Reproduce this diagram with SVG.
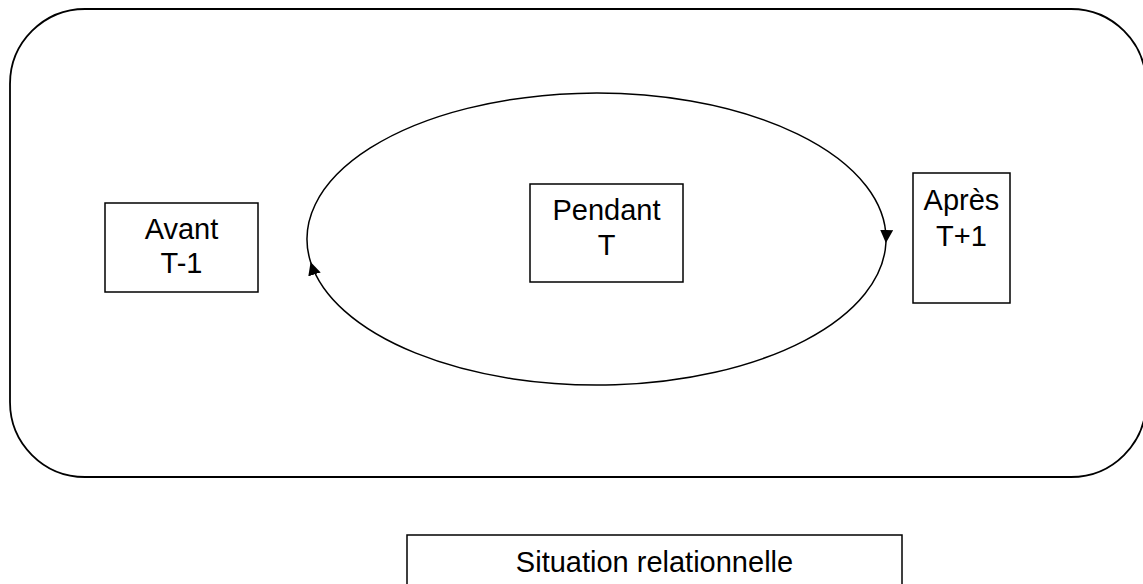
<svg xmlns="http://www.w3.org/2000/svg" width="1143" height="584" viewBox="0 0 1143 584">
<style>
.box{fill:#fff;stroke:#000;stroke-width:1.5}
.lbl{font-family:"Liberation Sans",Arial,sans-serif;font-size:29px;fill:#000;text-anchor:middle}
.arc{fill:none;stroke:#000;stroke-width:1.5}
</style>
<defs>
<marker id="ah" markerUnits="userSpaceOnUse" markerWidth="14" markerHeight="14" refX="13" refY="6.5" orient="auto">
<path d="M0,0 L13,6.5 L0,13 z" fill="#000"/>
</marker>
</defs>
<rect width="1143" height="584" fill="#fff"/>
<g id="frame">
<rect x="10" y="9" width="1136" height="468" rx="75" ry="75" fill="none" stroke="#000" stroke-width="1.8"/>
</g>
<g id="connectors">
<path class="arc" d="M 310.6,262 A 289.5 146 0 1 1 885.9,243" marker-end="url(#ah)"/>
<path class="arc" d="M 885.9,243 A 289.5 146 0 0 1 310.6,262" marker-end="url(#ah)"/>
</g>
<g id="avant">
<rect class="box" x="105" y="203" width="153" height="89"/>
<text class="lbl" x="181.5" y="239">Avant</text>
<text class="lbl" x="181.5" y="273">T-1</text>
</g>
<g id="pendant">
<rect class="box" x="530" y="184" width="153" height="98"/>
<text class="lbl" x="606.5" y="220">Pendant</text>
<text class="lbl" x="606.5" y="255">T</text>
</g>
<g id="apres">
<rect class="box" x="913" y="173" width="97" height="130"/>
<text class="lbl" x="961.5" y="210">Après</text>
<text class="lbl" x="961.5" y="246">T+1</text>
</g>
<g id="situation">
<rect class="box" x="407" y="535" width="495" height="60"/>
<text class="lbl" x="654.5" y="572">Situation relationnelle</text>
</g>
</svg>
